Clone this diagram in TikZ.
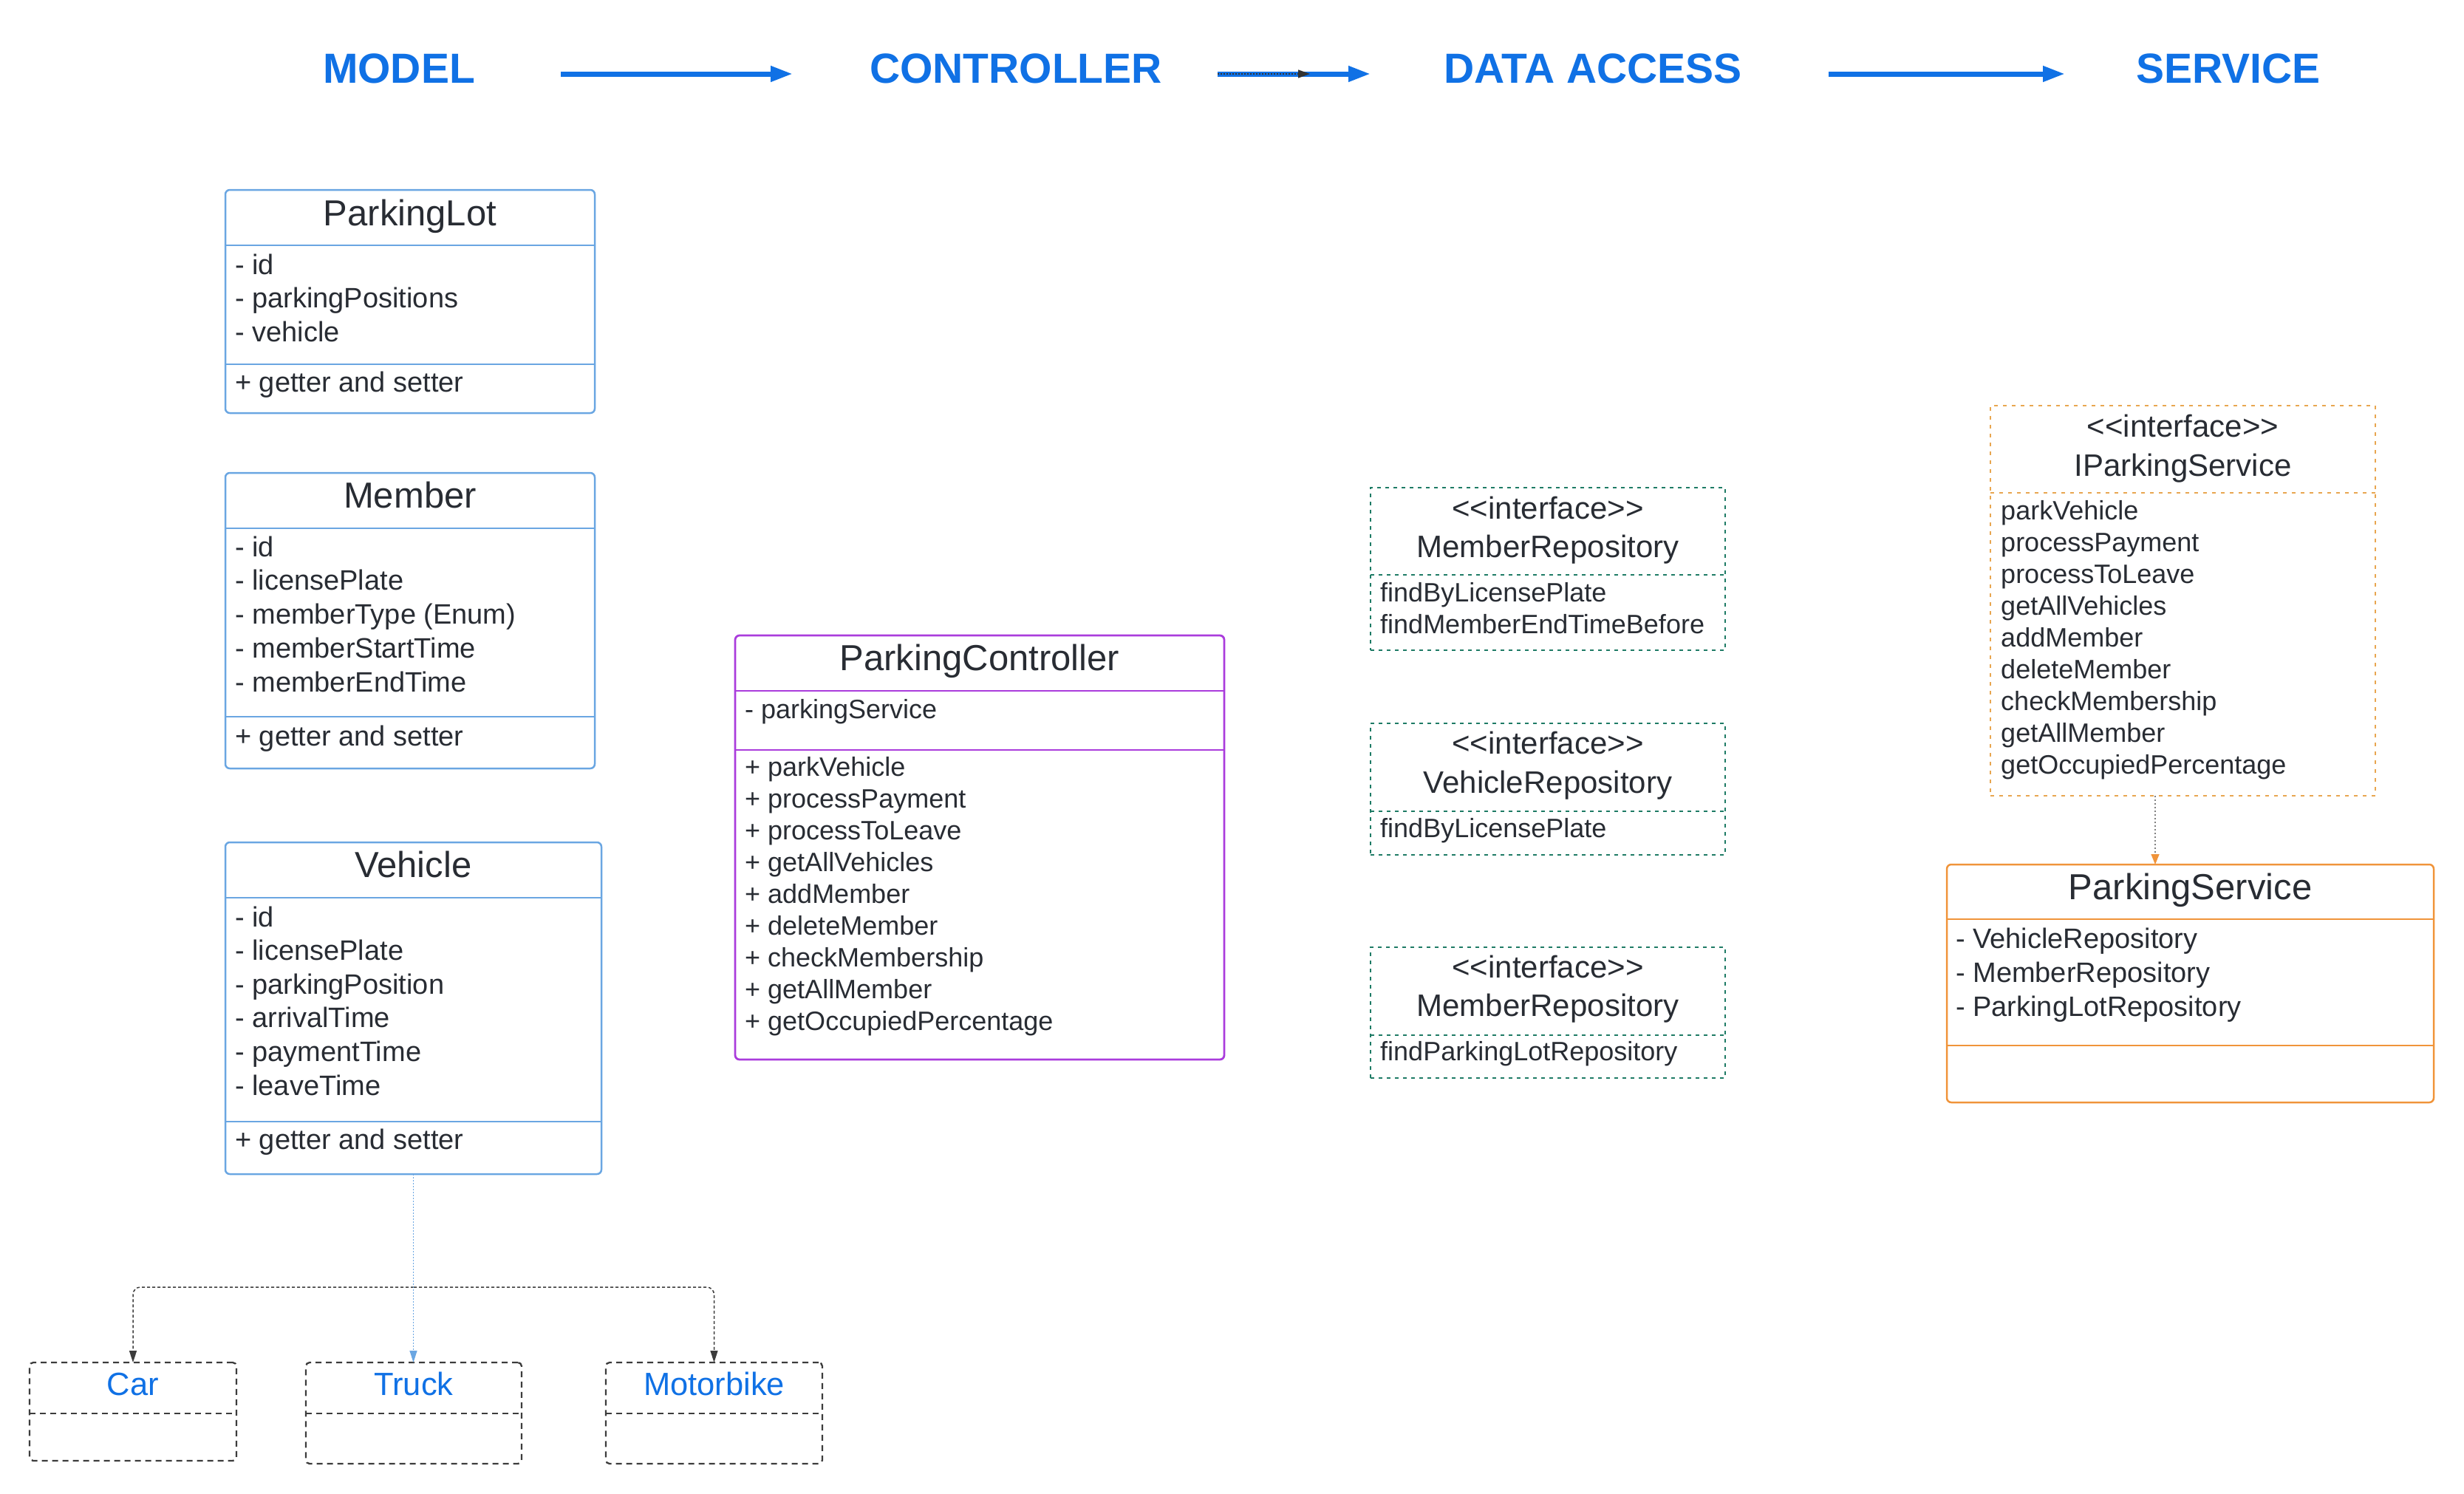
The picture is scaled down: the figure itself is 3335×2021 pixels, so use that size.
\documentclass[tikz,border=0pt]{standalone}
\usepackage{fontspec}
\setmainfont{Liberation Sans}
\usetikzlibrary{arrows.meta}
\definecolor{hdrblue}{HTML}{1071E5}
\definecolor{modelblue}{HTML}{6AA6E2}
\definecolor{ctrlpurple}{HTML}{AA3CDC}
\definecolor{repoteal}{HTML}{1E7B65}
\definecolor{ifaceorange}{HTML}{E8A650}
\definecolor{svcorange}{HTML}{F0943A}
\definecolor{txtdark}{HTML}{282C33}
\definecolor{subgray}{HTML}{3C3C3C}
\newcommand\umlrect[6]{\node[#1, minimum width={#4-#2}, minimum height={#5-#3}] (#6) at (#2,#3) {};}
\newcommand\udiv[3]{\draw[#1] (#2.west |- 0,#3) -- (#2.east |- 0,#3);}
\newcommand\tlines[6]{\foreach \t [count=\i from 0] in {#6} {\node[#1] (#5\i) at (#2,{#3+\i*#4}) {\t};}}
\tikzset{
  hdr/.style={font=\fontsize{57}{60}\selectfont\bfseries, text=hdrblue, inner sep=0pt, anchor=base},
  hdrarrow/.style={draw=hdrblue, line width=7pt, -{Triangle[length=30pt,width=20pt,fill=hdrblue]}},
  boxbase/.style={inner sep=0pt, outer sep=0pt, anchor=north west, draw},
  modelbox/.style={boxbase, draw=modelblue, line width=2.5pt, rounded corners=6pt},
  modeldiv/.style={draw=modelblue, line width=2.5pt},
  ctrlbox/.style={boxbase, draw=ctrlpurple, line width=2.8pt, rounded corners=6pt},
  ctrldiv/.style={draw=ctrlpurple, line width=2.8pt},
  repobox/.style={boxbase, draw=repoteal, line width=2pt, dash pattern=on 5pt off 6pt},
  repodiv/.style={draw=repoteal, line width=2pt, dash pattern=on 5pt off 6pt},
  ifacebox/.style={boxbase, draw=ifaceorange, line width=2pt, dash pattern=on 5pt off 7pt},
  ifacediv/.style={draw=ifaceorange, line width=2pt, dash pattern=on 5pt off 7pt},
  svcbox/.style={boxbase, draw=svcorange, line width=2.5pt, rounded corners=6pt},
  svcdiv/.style={draw=svcorange, line width=2.5pt},
  subbox/.style={boxbase, draw=subgray, line width=2.3pt, rounded corners=5pt, dash pattern=on 8pt off 6pt},
  subdiv/.style={draw=subgray, line width=2.3pt, dash pattern=on 8pt off 6pt},
  ctitle/.style={anchor=base, inner sep=0pt, text=txtdark, font=\fontsize{49}{49}\selectfont},
  ititle/.style={anchor=base, inner sep=0pt, text=txtdark, font=\fontsize{42}{42}\selectfont},
  attr/.style={anchor=base west, inner sep=0pt, text=txtdark, font=\fontsize{38}{38}\selectfont},
  cattr/.style={anchor=base west, inner sep=0pt, text=txtdark, font=\fontsize{36}{36}\selectfont},
  iattr/.style={anchor=base west, inner sep=0pt, text=txtdark, font=\fontsize{36}{36}\selectfont},
  subtitle/.style={anchor=base, inner sep=0pt, text=hdrblue, font=\fontsize{43.5}{43.5}\selectfont},
  gencon/.style={draw=subgray, line width=1.5pt, dash pattern=on 4pt off 3pt, rounded corners=10pt,
    -{Triangle[length=16pt,width=10pt,fill=subgray]}},
  bluecon/.style={draw=modelblue, line width=1.3pt, dash pattern=on 1.5pt off 2.5pt,
    -{Triangle[length=16pt,width=10pt,fill=modelblue]}},
  implcon/.style={draw=gray, line width=1.3pt, dash pattern=on 2pt off 3pt,
    -{Triangle[length=14pt,width=11pt,fill=svcorange,color=svcorange]}},
  innercon/.style={draw=black!80, line width=1.5pt, dash pattern=on 2pt off 2pt,
    -{Triangle[length=16pt,width=11pt,fill=black!80]}},
}
\begin{document}
\begin{tikzpicture}[x=1pt,y=-1pt]
\useasboundingbox (0,0) rectangle (3335,2021);
% headers
\node[hdr] (hmodel) at (540,112) {MODEL};
\node[hdr] (hctrl) at (1375,112) {CONTROLLER};
\node[hdr] (hdata) at (2156,112) {DATA ACCESS};
\node[hdr] (hserv) at (3016,112) {SERVICE};
\coordinate (a1s) at (759,100); \coordinate (a1e) at (1073,100);
\coordinate (a2s) at (1648,100); \coordinate (a2e) at (1855,100);
\coordinate (a2m) at (1773,100);
\coordinate (a3s) at (2475,100); \coordinate (a3e) at (2795,100);
\draw[hdrarrow] (a1s) -- (a1e);
\draw[hdrarrow] (a2s) -- (a2e);
\draw[innercon] (a2s) -- (a2m);
\draw[hdrarrow] (a3s) -- (a3e);

% ParkingLot
\umlrect{modelbox}{305}{257}{805}{559}{pl}
\udiv{modeldiv}{pl}{332}
\udiv{modeldiv}{pl}{493}
\node[ctitle] (pltitle) at (555,305) {ParkingLot};
\tlines{attr}{318}{371}{45.5}{pla}{- id, - parkingPositions, - vehicle}
\node[attr] (plm) at (318,530) {+ getter and setter};

% Member
\umlrect{modelbox}{305}{640}{805}{1040}{mem}
\udiv{modeldiv}{mem}{715}
\udiv{modeldiv}{mem}{970}
\node[ctitle] (memtitle) at (555,687) {Member};
\tlines{attr}{318}{753}{45.75}{mema}{- id, - licensePlate, - memberType (Enum), - memberStartTime, - memberEndTime}
\node[attr] (memm) at (318,1009) {+ getter and setter};

% Vehicle
\umlrect{modelbox}{305}{1140}{814}{1589}{veh}
\udiv{modeldiv}{veh}{1215}
\udiv{modeldiv}{veh}{1518}
\node[ctitle] (vehtitle) at (559.5,1187) {Vehicle};
\tlines{attr}{318}{1254}{45.6}{veha}{- id, - licensePlate, - parkingPosition, - arrivalTime, - paymentTime, - leaveTime}
\node[attr] (vehm) at (318,1555) {+ getter and setter};

% subclasses
\umlrect{subbox}{40}{1844}{320}{1977}{car}
\udiv{subdiv}{car}{1913}
\node[subtitle] (cartitle) at (180,1888) {Car};
\umlrect{subbox}{414}{1844}{706}{1981}{truck}
\udiv{subdiv}{truck}{1913}
\node[subtitle] (trucktitle) at (560,1888) {Truck};
\umlrect{subbox}{820}{1844}{1113}{1981}{moto}
\udiv{subdiv}{moto}{1913}
\node[subtitle] (mototitle) at (966.5,1888) {Motorbike};
\coordinate (vj) at (560,1742);
\draw[gencon] (vj) -| (car.north);
\draw[gencon] (vj) -| (moto.north);
\draw[bluecon] (veh.south) -- (veh.south |- truck.north);

% Controller
\umlrect{ctrlbox}{995}{860}{1657}{1434}{ctrl}
\udiv{ctrldiv}{ctrl}{935}
\udiv{ctrldiv}{ctrl}{1015}
\node[ctitle] (ctrltitle) at (1326,907) {ParkingController};
\node[cattr] (ctrla) at (1008,972) {- parkingService};
\tlines{cattr}{1008}{1050}{43.1}{ctrlm}{+ parkVehicle, + processPayment, + processToLeave, + getAllVehicles, + addMember, + deleteMember, + checkMembership, + getAllMember, + getOccupiedPercentage}

% Repositories
\umlrect{repobox}{1855}{660}{2335}{880}{repoa}
\udiv{repodiv}{repoa}{778}
\node[ititle] (repoast) at (2095,702) {<\kern0pt<interface>\kern0pt>};
\node[ititle] (repoan) at (2095,754) {MemberRepository};
\tlines{iattr}{1868}{814}{43}{repoam}{findByLicensePlate, findMemberEndTimeBefore}

\umlrect{repobox}{1855}{979}{2335}{1157}{repob}
\udiv{repodiv}{repob}{1098}
\node[ititle] (repobst) at (2095,1020) {<\kern0pt<interface>\kern0pt>};
\node[ititle] (repobn) at (2095,1073) {VehicleRepository};
\node[iattr] (repobm) at (1868,1133) {findByLicensePlate};

\umlrect{repobox}{1855}{1282}{2335}{1459}{repoc}
\udiv{repodiv}{repoc}{1401}
\node[ititle] (repocst) at (2095,1323) {<\kern0pt<interface>\kern0pt>};
\node[ititle] (repocn) at (2095,1375) {MemberRepository};
\node[iattr] (repocm) at (1868,1435) {findParkingLotRepository};

% IParkingService
\umlrect{ifacebox}{2694}{549}{3215}{1077}{ips}
\udiv{ifacediv}{ips}{667}
\node[ititle] (ipsst) at (2954.5,591) {<\kern0pt<interface>\kern0pt>};
\node[ititle] (ipsn) at (2954.5,644) {IParkingService};
\tlines{iattr}{2708}{703}{43.1}{ipsm}{parkVehicle, processPayment, processToLeave, getAllVehicles, addMember, deleteMember, checkMembership, getAllMember, getOccupiedPercentage}

% ParkingService
\umlrect{svcbox}{2635}{1170}{3294}{1492}{ps}
\udiv{svcdiv}{ps}{1244}
\udiv{svcdiv}{ps}{1415}
\node[ctitle] (pstitle) at (2964.5,1217) {ParkingService};
\tlines{attr}{2647}{1283}{46}{psa}{- VehicleRepository, - MemberRepository, - ParkingLotRepository}
\draw[implcon] (ips.south -| 2917,0) -- (ps.north -| 2917,0);
\end{tikzpicture}
\end{document}
